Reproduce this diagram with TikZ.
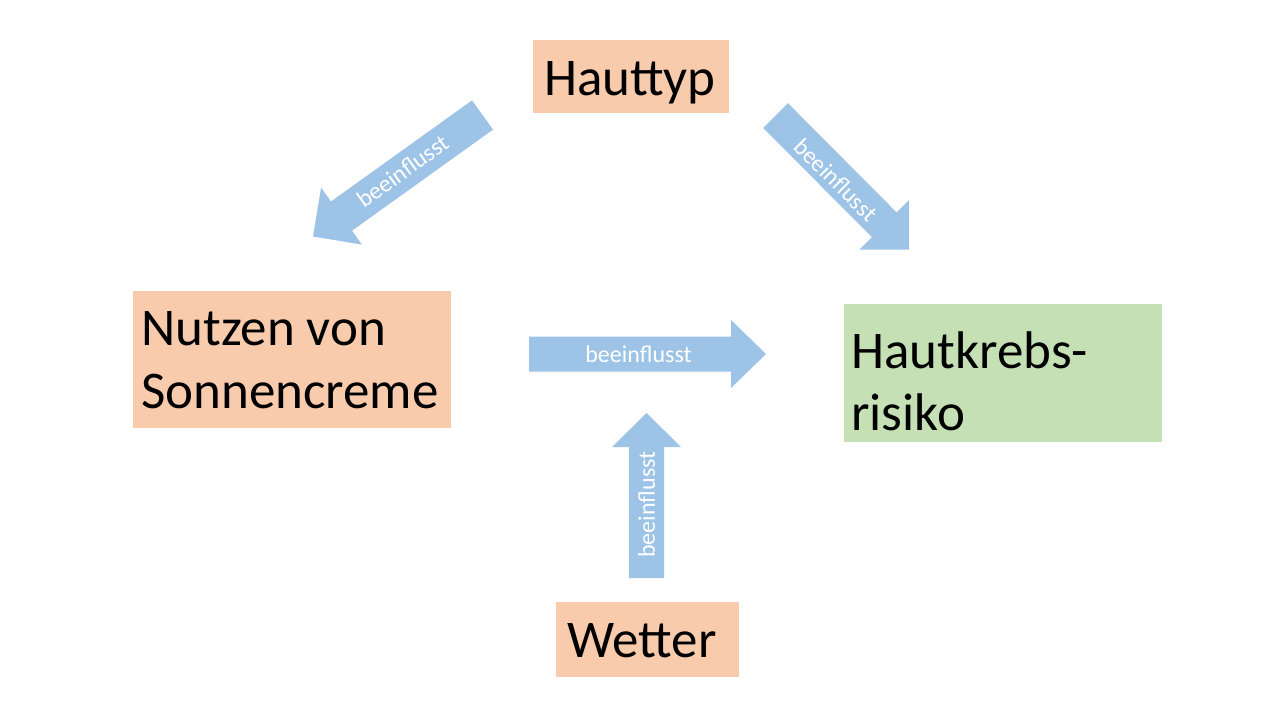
\documentclass[tikz,border=0pt]{standalone}
\usepackage{fontspec}
\setmainfont{Carlito}
\definecolor{peach}{HTML}{F8CBAD}
\definecolor{leaf}{HTML}{C5E0B4}
\definecolor{sky}{HTML}{9DC3E6}
\begin{document}
\begin{tikzpicture}[x=1pt,y=-1pt,
  box/.style={draw=none, inner sep=0pt, outer sep=0pt},
  peachbox/.style={box, fill=peach},
  greenbox/.style={box, fill=leaf},
  bigtext/.style={inner sep=0pt, font=\fontsize{53}{63}\selectfont, text=black, align=left},
  blockarrow/.style={fill=sky, draw=none},
  arrowtext/.style={inner sep=0pt, font=\fontsize{24}{28}\selectfont, text=white}]
\useasboundingbox[fill=white] (0,0) rectangle (1280,720);

% boxes
\node[peachbox, minimum width=196pt, minimum height=73pt] (hauttyp) at (631,76.5) {};
\node[peachbox, minimum width=318pt, minimum height=137pt] (nutzen) at (292,359.5) {};
\node[greenbox, minimum width=318pt, minimum height=138pt] (risiko) at (1003,373) {};
\node[peachbox, minimum width=183pt, minimum height=75pt] (wetter) at (647.5,639.5) {};

% texts
\node[bigtext, anchor=base] (thauttyp) at (630,95) {Hauttyp};
\node[bigtext, anchor=base west] (tnutzen1) at (141,345) {Nutzen von};
\node[bigtext, anchor=base west] (tnutzen2) at (141,408) {Sonnencreme};
\node[bigtext, anchor=base west] (trisiko1) at (851,368) {Hautkrebs-};
\node[bigtext, anchor=base west] (trisiko2) at (851,430) {risiko};
\node[bigtext, anchor=base west] (twetter) at (567,657) {Wetter};

% arrow Hauttyp -> Nutzen
\fill[blockarrow] (493,129.6) -- (472,100.4) -- (331,201.5) -- (321.1,187.6)
  -- (313,236.5) -- (361.9,244.6) -- (352,230.7) -- cycle;
\node[arrowtext, rotate=35.6] (a1) at (402.5,171) {beeinflusst};

% arrow Hauttyp -> Risiko
\fill[blockarrow] (787.9,103.1) -- (763.1,127.9) -- (871.9,237.1) -- (859.5,249.5)
  -- (909,249.5) -- (909,200) -- (896.6,212.4) -- cycle;
\node[arrowtext, rotate=-45] (a2) at (836,180) {beeinflusst};

% arrow Nutzen -> Risiko
\fill[blockarrow] (529,336.5) -- (731,336.5) -- (731,320) -- (766,354)
  -- (731,388) -- (731,371.5) -- (529,371.5) -- cycle;
\node[arrowtext] (a3) at (638.5,354) {beeinflusst};

% arrow Wetter -> up
\fill[blockarrow] (629,578) -- (629,447) -- (612,447) -- (646.5,413)
  -- (681,447) -- (664,447) -- (664,578) -- cycle;
\node[arrowtext, rotate=90] (a4) at (646.5,504.5) {beeinflusst};
\end{tikzpicture}
\end{document}
